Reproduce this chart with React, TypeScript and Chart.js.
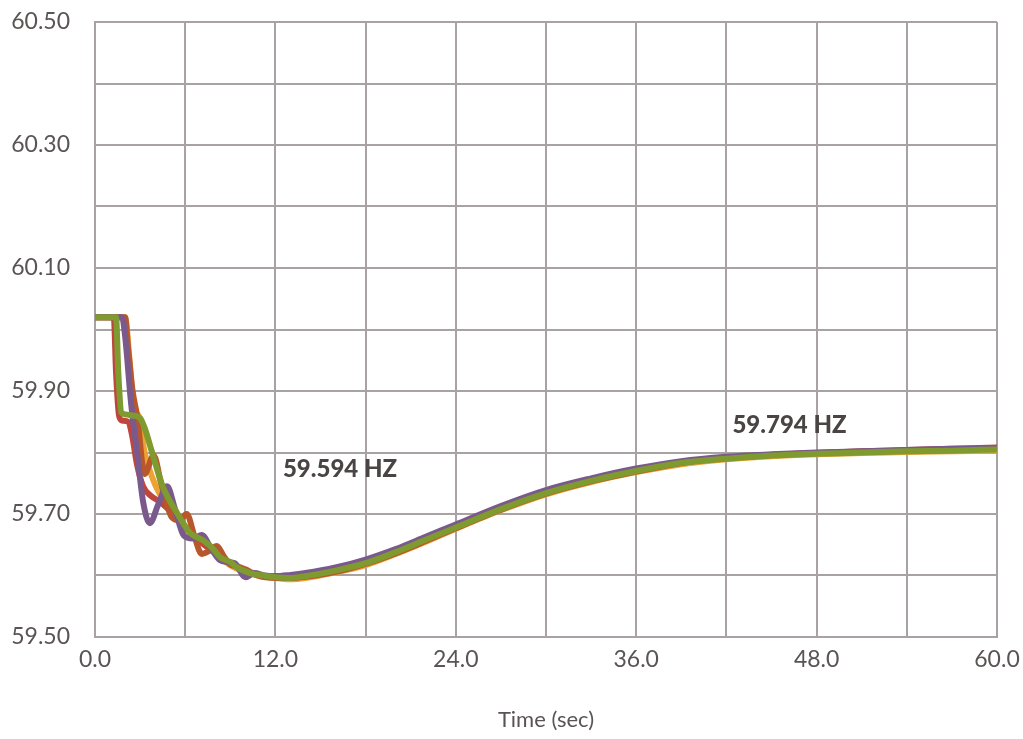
import React, { useEffect, useRef } from "react";
import { Chart, registerables } from "chart.js";

Chart.register(...registerables);

// ---- Data ----
const greenT = [0, 1.4, 1.55, 1.75, 2.0, 2.5, 3.0, 3.3, 3.8, 4.5, 5.5, 6.3, 7.2, 7.8, 8.3, 9.0, 9.4, 10.3, 11.2, 12, 13, 14, 16, 18, 20, 22, 24, 27, 30, 33, 36, 39, 42, 45, 48, 51, 54, 57, 60];
const greenV = [60.02, 60.02, 59.93, 59.865, 59.862, 59.86, 59.856, 59.84, 59.80, 59.745, 59.70, 59.67, 59.657, 59.645, 59.63, 59.622, 59.614, 59.604, 59.60, 59.597, 59.596, 59.599, 59.608, 59.62, 59.638, 59.658, 59.678, 59.708, 59.734, 59.754, 59.77, 59.783, 59.79, 59.795, 59.798, 59.80, 59.802, 59.803, 59.805];

const purpleT = [0, 1.8, 2.0, 2.4, 2.8, 3.2, 3.65, 4.2, 4.8, 5.3, 5.9, 6.5, 7.1, 7.7, 8.3, 8.8, 9.3, 10.0, 10.6, 11.3, 12, 13, 14, 16, 18, 20, 22, 24, 27, 30, 33, 36, 39, 42, 45, 48, 51, 54, 57, 60];
const purpleV = [60.02, 60.02, 59.99, 59.88, 59.80, 59.72, 59.685, 59.715, 59.745, 59.71, 59.665, 59.66, 59.666, 59.645, 59.625, 59.622, 59.62, 59.597, 59.604, 59.60, 59.599, 59.601, 59.604, 59.613, 59.626, 59.643, 59.663, 59.683, 59.713, 59.739, 59.758, 59.774, 59.786, 59.793, 59.797, 59.8, 59.802, 59.804, 59.806, 59.807];

const brickT = [0, 2.0, 2.2, 2.5, 2.8, 3.3, 3.9, 4.4, 5.1, 5.6, 6.1, 6.6, 7.1, 7.6, 8.1, 8.6, 9.0, 9.5, 10.0, 10.8, 12, 13, 14, 16, 18, 20, 22, 24, 27, 30, 33, 36, 39, 42, 45, 48, 51, 54, 57, 60];
const brickV = [60.02, 60.02, 59.97, 59.90, 59.86, 59.765, 59.795, 59.75, 59.695, 59.69, 59.70, 59.665, 59.635, 59.64, 59.648, 59.63, 59.618, 59.615, 59.61, 59.60, 59.596, 59.596, 59.598, 59.606, 59.619, 59.636, 59.656, 59.677, 59.707, 59.733, 59.753, 59.769, 59.783, 59.791, 59.796, 59.799, 59.801, 59.803, 59.805, 59.806];

const redT = [0, 1.25, 1.4, 1.6, 1.8, 2.2, 2.45, 2.8, 3.2, 3.7, 4.3, 5.0, 5.6, 6.3, 7.0, 7.8, 8.6, 9.5, 10.5, 12, 14, 16, 18, 20, 22, 24, 27, 30, 33, 36, 39, 42, 45, 48, 51, 54, 57, 60];
const redV = [60.02, 60.02, 59.93, 59.86, 59.852, 59.85, 59.83, 59.78, 59.745, 59.73, 59.72, 59.705, 59.69, 59.67, 59.655, 59.64, 59.626, 59.613, 59.603, 59.597, 59.6, 59.609, 59.621, 59.639, 59.659, 59.679, 59.709, 59.735, 59.755, 59.771, 59.784, 59.791, 59.796, 59.799, 59.802, 59.804, 59.806, 59.808];

const orangeT = [0, 2.0, 2.3, 2.6, 2.9, 3.3, 3.8, 4.5, 5.3, 6.0, 6.8, 7.6, 8.5, 9.5, 10.5, 12, 13, 14, 16, 18, 20, 22, 24, 27, 30, 33, 36, 39, 42, 45, 48, 51, 54, 57, 60];
const orangeV = [60.02, 60.02, 59.95, 59.87, 59.86, 59.80, 59.76, 59.725, 59.705, 59.68, 59.66, 59.645, 59.625, 59.61, 59.602, 59.596, 59.594, 59.596, 59.605, 59.617, 59.635, 59.655, 59.676, 59.706, 59.732, 59.752, 59.768, 59.781, 59.789, 59.794, 59.797, 59.799, 59.801, 59.802, 59.803];

const seriesNames = ["Green", "Purple", "Brick", "Red", "Orange"];
const seriesColors = ["#7f9a2e", "#7a5a8c", "#b9572c", "#c0463c", "#eda234"];
const seriesTimes = [greenT, purpleT, brickT, redT, orangeT];
const seriesValues = [greenV, purpleV, brickV, redV, orangeV];

const annotationText = ["59.594 HZ", "59.794 HZ"];
const annotationT = [12.5, 42.4];
const annotationV = [59.772, 59.845];

const xTitle = "Time (sec)";

const FONT = "Lato, 'Open Sans', sans-serif";
const GRID = "#a8a2a2";
const TEXT = "#5a5454";

export default function App() {
  const ref = useRef<HTMLCanvasElement | null>(null);

  useEffect(() => {
    document.body.style.margin = "0";
    const canvas = ref.current;
    if (!canvas) return;

    const annotationPlugin = {
      id: "hzLabels",
      afterDatasetsDraw(chart: any) {
        const { ctx, scales } = chart;
        ctx.save();
        ctx.font = `900 24px ${FONT}`;
        ctx.fillStyle = "#4a4444";
        ctx.textAlign = "left";
        ctx.textBaseline = "middle";
        annotationText.forEach((txt, i) => {
          ctx.fillText(txt, scales.x.getPixelForValue(annotationT[i]), scales.y.getPixelForValue(annotationV[i]));
        });
        ctx.restore();
      },
    };

    const chart = new Chart(canvas, {
      type: "line",
      data: {
        datasets: seriesNames.map((name, i) => ({
          label: name,
          data: seriesTimes[i].map((t, j) => ({ x: t, y: seriesValues[i][j] })),
          borderColor: seriesColors[i],
          backgroundColor: seriesColors[i],
          borderWidth: 6,
          pointRadius: 0,
          fill: false,
          cubicInterpolationMode: "monotone" as const,
          borderCapStyle: "round" as const,
          borderJoinStyle: "round" as const,
        })),
      },
      options: {
        animation: false,
        responsive: false,
        maintainAspectRatio: false,
        layout: { autoPadding: false, padding: { left: 0, right: 26, top: 22, bottom: 0 } },
        plugins: {
          legend: { display: false },
          tooltip: { enabled: false },
        },
        scales: {
          x: {
            type: "linear",
            min: 0,
            max: 60,
            grid: { color: GRID, lineWidth: 2, drawTicks: false },
            border: { color: GRID, width: 2 },
            ticks: {
              stepSize: 6,
              autoSkip: false,
              maxRotation: 0,
              padding: 9,
              color: TEXT,
              font: { family: FONT, size: 23 },
              callback: (v: any) => (Math.round(Number(v)) % 12 === 0 ? Number(v).toFixed(1) : ""),
            },
            title: {
              display: true,
              text: xTitle,
              color: TEXT,
              font: { family: FONT, size: 22 },
              padding: { top: 0, bottom: 6 },
            },
            afterFit: (s: any) => {
              s.height = 102;
              s.paddingLeft = 0;
              s.paddingRight = 0;
            },
          },
          y: {
            type: "linear",
            min: 59.5,
            max: 60.5,
            grid: { color: GRID, lineWidth: 2, drawTicks: false },
            border: { color: GRID, width: 2 },
            ticks: {
              stepSize: 0.1,
              autoSkip: false,
              padding: 25,
              color: TEXT,
              font: { family: FONT, size: 23 },
              callback: (v: any) => (Math.round(Number(v) * 10) % 2 === 1 ? Number(v).toFixed(2) : ""),
            },
            afterFit: (s: any) => {
              s.width = 95;
              s.paddingTop = 0;
              s.paddingBottom = 0;
            },
          },
        },
      },
      plugins: [annotationPlugin],
    });

    return () => chart.destroy();
  }, []);

  return (
    <div style={{ width: 1023, height: 739, background: "#fff" }}>
      <canvas ref={ref} width={1023} height={739} style={{ display: "block" }} />
    </div>
  );
}
